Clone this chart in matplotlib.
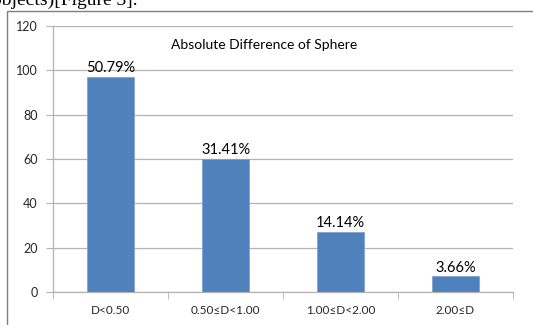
import matplotlib.pyplot as plt
import numpy as np
from matplotlib.patches import Rectangle

# Counts per sphere-difference bin
categories = ['D<0.50', '0.50≤D<1.00', '1.00≤D<2.00', '2.00≤D']
counts = [97, 60, 27, 7]
percent_labels = ['50.79%', '31.41%', '14.14%', '3.66%']
y_ticks = [0, 20, 40, 60, 80, 100, 120]

bar_color = '#4F81BD'
grid_color = '#B3B3B3'
text_color = '#262626'

fig = plt.figure(figsize=(5.33, 3.25), dpi=100)
W, H = 533, 325

# Caption text of the page running above the chart
fig.text(-8 / W, 1 - 5 / H, 'objects)[Figure 3].', family='Liberation Serif',
         fontsize=14, color='black', ha='left', va='baseline')

# Chart frame
fig.patches.append(Rectangle((7 / W, -0.1), 1.2, 1 - 11 / H + 0.1,
                             transform=fig.transFigure, fill=False,
                             edgecolor='#7F7F7F', linewidth=1.0))

ax = fig.add_axes([53 / W, 1 - 292 / H, 460 / W, 266 / H])
x = np.arange(len(categories))
ax.bar(x, counts, width=0.41, color=bar_color, edgecolor='#7FA3D1',
       linewidth=0.6, zorder=3)

for xi, c, lab in zip(x, counts, percent_labels):
    ax.text(xi, c + 0.8, lab, ha='center', va='bottom', fontsize=10.5,
            family='Lato', color='black')

ax.set_xlim(-0.5, len(categories) - 0.5)
ax.set_ylim(0, 120)
ax.set_yticks(y_ticks)
ax.set_yticklabels([str(v) for v in y_ticks], family='Lato', fontsize=9,
                   color=text_color)
ax.set_xticks(x)
ax.set_xticklabels(categories, family='Lato', fontsize=8.5, color=text_color)
ax.tick_params(axis='x', length=0, pad=9)
ax.tick_params(axis='y', length=5, color=grid_color, pad=6)

# Category separator ticks under the axis
ax.set_xticks(np.arange(len(categories) + 1) - 0.5, minor=True)
ax.tick_params(axis='x', which='minor', length=5, color=grid_color)

ax.grid(axis='y', color=grid_color, linewidth=0.9, zorder=0)
for s in ['top', 'right']:
    ax.spines[s].set_visible(False)
for s in ['left', 'bottom']:
    ax.spines[s].set_color(grid_color)
    ax.spines[s].set_linewidth(0.9)

ax.text(0.46, 0.93, 'Absolute Difference of Sphere', transform=ax.transAxes,
        ha='center', va='center', family='Lato', fontsize=10, color='black')

fig.savefig('out.png', dpi=100)
